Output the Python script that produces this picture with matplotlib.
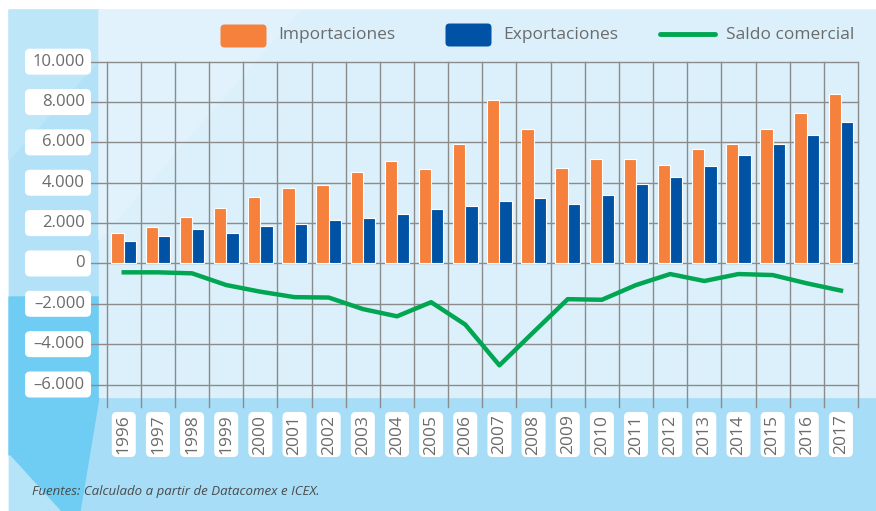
import matplotlib.pyplot as plt
import numpy as np
from matplotlib.patches import FancyBboxPatch, Rectangle, Polygon
from matplotlib.lines import Line2D
from matplotlib.transforms import Affine2D

plt.rcParams['font.family'] = ['Open Sans', 'DejaVu Sans']

# datos (millones de euros aprox.)
years = [str(y) for y in range(1996, 2018)]
importaciones = [1520, 1800, 2290, 2740, 3300, 3730, 3880, 4520, 5100, 4670, 5940,
                 8120, 6670, 4740, 5165, 5165, 4880, 5660, 5940, 6670, 7440, 8380]
exportaciones = [1090, 1370, 1730, 1520, 1865, 1950, 2160, 2230, 2440, 2720, 2870,
                 3085, 3220, 2940, 3380, 3940, 4300, 4820, 5380, 5940, 6390, 7030]
saldo = [-440, -440, -490, -1070, -1400, -1670, -1690, -2260, -2620, -1920, -3030,
         -5050, -3400, -1770, -1800, -1070, -525, -870, -525, -575, -985, -1345]
ytick_vals = [10000, 8000, 6000, 4000, 2000, 0, -2000, -4000, -6000]
ytick_labels = ['10.000', '8.000', '6.000', '4.000', '2.000', '0',
                '\u20132.000', '\u20134.000', '\u20136.000']
legend_labels = ['Importaciones', 'Exportaciones', 'Saldo comercial']
fuente = 'Fuentes: Calculado a partir de Datacomex e ICEX.'

c_imp = '#f5813c'
c_exp = '#0053a4'
c_sal = '#00a651'
c_grid = '#8b8b8b'
c_txt = '#6b6b6b'

W, H = 876, 511
fig = plt.figure(figsize=(W / 100, H / 100), dpi=100)
# coordenadas en pixeles, origen arriba-izquierda
px = Affine2D().scale(1.0 / W, -1.0 / H).translate(0, 1) + fig.transFigure

# fondos
fig.patches.append(Rectangle((9, 10), 867, 501, transform=px, color='#a7ddf6', zorder=0))
fig.patches.append(Polygon([(9, 10), (99, 10), (99, 297), (9, 297)], transform=px,
                           color='#b3e2f8', zorder=0.1))
fig.patches.append(Polygon([(9, 10), (99, 10), (99, 60), (9, 160)], transform=px,
                           color='#bee6f9', zorder=0.15))
fig.patches.append(Polygon([(9, 297), (99, 297), (99, 397), (80, 511), (60, 511), (9, 455)],
                           transform=px, color='#6fcdf4', zorder=0.2))
fig.patches.append(Polygon([(9, 455), (9, 511), (60, 511)], transform=px,
                           color='#b5e3f8', zorder=0.25))
fig.patches.append(Rectangle((99, 10), 777, 387, transform=px, color='#dcf0fb', zorder=0.3))
fig.patches.append(Polygon([(99, 10), (300, 10), (99, 240)], transform=px,
                           color='#e2f2fc', zorder=0.35))

ax = fig.add_axes([106.7 / W, 1 - 384.5 / H, (858 - 106.7) / W, (384.5 - 61.7) / H])
ax.set_zorder(1)
ax.set_xlim(-0.5, len(years) - 0.5)
ax.set_ylim(-6000, 10000)
ax.axis('off')
ax.patch.set_alpha(0)

x = np.arange(len(years))

# rejilla
for v in ytick_vals:
    ax.plot([-0.021, 1], [v, v], transform=ax.get_yaxis_transform(), color=c_grid,
            lw=1.0, clip_on=False, zorder=1)
for k in range(len(years) + 1):
    ax.plot([k - 0.5, k - 0.5], [-0.07, 1], transform=ax.get_xaxis_transform(),
            color=c_grid, lw=1.0, clip_on=False, zorder=1)

ax.bar(x - 0.18, importaciones, 0.36, color=c_imp, edgecolor='white', lw=0.8, zorder=3)
ax.bar(x + 0.18, exportaciones, 0.36, color=c_exp, edgecolor='white', lw=0.8, zorder=3)
ax.plot(x, saldo, color=c_sal, lw=3.2, zorder=4, solid_joinstyle='round')

fig.canvas.draw()

# etiquetas eje y
for v, lab in zip(ytick_vals, ytick_labels):
    yp = H - ax.transData.transform((0, v))[1]
    fig.patches.append(FancyBboxPatch((28, yp - 10), 60, 20, boxstyle='round,pad=3,rounding_size=5',
                                      transform=px, fc='white', ec='none', zorder=2))
    fig.text(85 / W, 1 - yp / H, lab, ha='right', va='center', fontsize=12,
             color=c_txt, zorder=3)

# etiquetas de años
for i, yr in enumerate(years):
    xp = ax.transData.transform((i, 0))[0]
    fig.patches.append(FancyBboxPatch((xp - 9, 415), 18, 39, boxstyle='round,pad=3,rounding_size=5',
                                      transform=px, fc='white', ec='none', zorder=2))
    fig.text(xp / W, 1 - 434.5 / H, yr, ha='center', va='center', rotation=90,
             fontsize=12.5, color=c_txt, zorder=3)

# leyenda
fig.patches.append(FancyBboxPatch((223, 27), 41, 18, boxstyle='round,pad=2.5,rounding_size=4',
                                  transform=px, fc=c_imp, ec='none', zorder=2))
fig.patches.append(FancyBboxPatch((448, 26), 41, 18, boxstyle='round,pad=2.5,rounding_size=4',
                                  transform=px, fc=c_exp, ec='none', zorder=2))
fig.lines.append(Line2D([660, 715], [34, 34], transform=px, color=c_sal, lw=3.5,
                        solid_capstyle='round', zorder=2))
for xt, lab in zip([278, 503, 726], legend_labels):
    fig.text(xt / W, 1 - 35 / H, lab, ha='left', va='center', fontsize=12.5, color=c_txt)

fig.text(32 / W, 1 - 491 / H, fuente, ha='left', va='center', fontsize=9.5,
         style='italic', color='#4a4a4a')

fig.savefig('out.png', dpi=100)
